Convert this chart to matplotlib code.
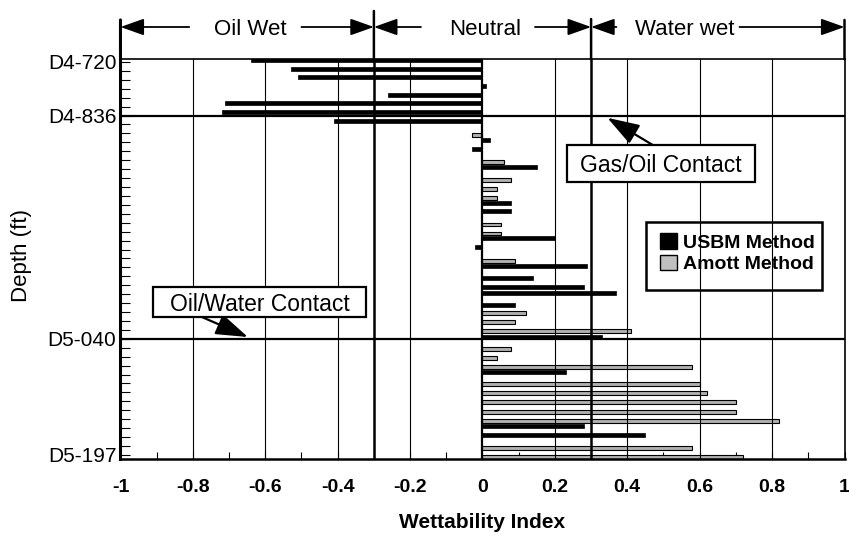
import matplotlib
matplotlib.use("Agg")
import matplotlib.pyplot as plt
import matplotlib.transforms as mtransforms
from matplotlib.patches import Patch, Rectangle
import numpy as np

plt.rcParams['font.family'] = ['Liberation Sans', 'DejaVu Sans']

# ---------------- data ----------------
# sample positions along depth axis (in minor-tick units, 0 = D4-720)
usbm_pos = [-0.22, 0.78, 1.68, 2.69, 3.70, 4.59, 5.60, 6.60, 8.73, 9.74, 11.79,
            15.76, 16.70, 19.70, 20.77, 22.80, 24.19, 25.16, 25.83, 27.20, 30.76,
            34.70, 40.80, 41.80, 44.45]
usbm_val = [-0.64, -0.53, -0.51, 0.01, -0.26, -0.71, -0.72, -0.41, 0.02, -0.03, 0.15,
            0.08, 0.08, 0.20, -0.02, 0.29, 0.14, 0.28, 0.37, 0.09, 0.33,
            0.23, 0.28, 0.45, 0.70]

amott_pos = [8.17, 11.23, 13.2, 14.2, 15.2, 18.2, 19.2, 22.25, 28.1, 29.1, 30.1,
             32.1, 33.15, 34.15, 36.1, 37.1, 38.1, 39.2, 40.2, 43.2, 44.2]
amott_val = [-0.03, 0.06, 0.08, 0.04, 0.04, 0.05, 0.05, 0.09, 0.12, 0.09, 0.41,
             0.08, 0.04, 0.58, 0.60, 0.62, 0.70, 0.70, 0.82, 0.58, 0.72]

depth_tick_pos = [0, 6, 31, 44]
depth_tick_labels = ["D4-720", "D4-836", "D5-040", "D5-197"]
contact_pos = [6, 31]          # Gas/Oil and Oil/Water contacts
contact_names = ["Gas/Oil Contact", "Oil/Water Contact"]
n_minor = 45

x_major = [-1, -0.8, -0.6, -0.4, -0.2, 0, 0.2, 0.4, 0.6, 0.8, 1]
x_major_labels = ["-1", "-0.8", "-0.6", "-0.4", "-0.2", "0", "0.2", "0.4", "0.6", "0.8", "1"]
grid_x = [-0.8, -0.6, -0.4, -0.2, 0.2, 0.4, 0.6, 0.8]
zone_bounds = [-1, -0.3, 0.3, 1]
zone_names = ["Oil Wet", "Neutral", "Water wet"]

# ---------------- figure ----------------
fig = plt.figure(figsize=(8.49, 5.39), dpi=100)
ax = fig.add_axes([0.1419, 0.1477, 0.8528, 0.7423])

ax.set_xlim(-1, 1)
ax.set_ylim(44.5, -0.3)

# bars
ax.barh(usbm_pos, usbm_val, height=0.45, color='black', edgecolor='black',
        linewidth=0.5, zorder=2)
ax.barh(amott_pos, amott_val, height=0.42, color='#b0b0b0', edgecolor='black',
        linewidth=0.8, zorder=2)

# grid / reference lines
for gx in grid_x:
    ax.axvline(gx, color='black', lw=0.8, zorder=3)
ax.axvline(0, color='black', lw=1.6, zorder=3)
for zb in zone_bounds[1:-1]:
    ax.axvline(zb, color='black', lw=1.8, zorder=3)
for cp in contact_pos:
    ax.axhline(cp, color='black', lw=1.6, zorder=3)

# spines
for s in ['top', 'right']:
    ax.spines[s].set_linewidth(1.2)
ax.spines['bottom'].set_linewidth(1.8)
ax.spines['left'].set_linewidth(2.2)

# ticks
ax.set_xticks(x_major)
ax.set_xticklabels(x_major_labels, fontsize=14, fontweight='bold')
ax.set_xticks(np.arange(-1, 1.001, 0.1), minor=True)
ax.tick_params(axis='x', which='both', direction='in', length=5, width=0.8,
               pad=14, top=False)
ax.set_yticks(depth_tick_pos)
ax.set_yticklabels(depth_tick_labels, fontsize=15)
ax.set_yticks(np.arange(n_minor), minor=True)
ax.tick_params(axis='y', which='both', direction='in', length=7.5, width=0.8,
               pad=3, right=False)

ax.set_xlabel("Wettability Index", fontsize=15, fontweight='bold', va='center')
ax.xaxis.set_label_coords(0.5, -0.157)
ax.set_ylabel("Depth (ft)", fontsize=16, va='center')
ax.yaxis.set_label_coords(-0.137, 0.51)

# zone boundary lines above axes
tops = {-1: 0.963, -0.3: 0.9796, 0.3: 0.9647, 1: 0.963}
for zb in zone_bounds:
    lw = 2.2 if zb == -1 else 1.8
    ax.annotate("", xy=(zb, tops[zb]), xytext=(zb, 1.0),
                xycoords=('data', 'figure fraction'),
                textcoords=('data', 'axes fraction'),
                arrowprops=dict(arrowstyle='-', lw=lw, color='black',
                                shrinkA=0, shrinkB=0))

# zone labels with arrows
blend = mtransforms.blended_transform_factory(ax.transData, fig.transFigure)
yarr = 1 - 27 / 539
label_x = [-0.64, 0.007, 0.56]
arrow_spans = [((-0.81, -1.0), (-0.50, -0.3)),
               ((-0.17, -0.3), (0.145, 0.3)),
               ((0.37, 0.3), (0.71, 1.0))]
for name, lx, spans in zip(zone_names, label_x, arrow_spans):
    ax.text(lx, yarr, name, transform=blend, ha='center', va='center_baseline',
            fontsize=16)
    for (x0, x1) in spans:
        ax.annotate("", xy=(x1, yarr), xytext=(x0, yarr),
                    xycoords=('data', 'figure fraction'),
                    textcoords=('data', 'figure fraction'),
                    arrowprops=dict(arrowstyle='-|>,head_length=0.9,head_width=0.32',
                                    mutation_scale=16, lw=1.3, color='black',
                                    shrinkA=0, shrinkB=0))

# contact annotation boxes
box_extents = [(0.2334, 0.7528, 9.29, 13.44), (-0.910, -0.322, 25.2, 28.56)]
arrow_ends = [((0.47, 9.29), (0.345, 6.25)), ((-0.775, 28.56), (-0.648, 30.8))]
for name, (bx0, bx1, by0, by1), (tail, head) in zip(contact_names, box_extents, arrow_ends):
    ax.add_patch(Rectangle((bx0, by0), bx1 - bx0, by1 - by0, fc='white', ec='black',
                           lw=1.6, zorder=10))
    ax.text((bx0 + bx1) / 2, (by0 + by1) / 2, name, fontsize=16.5, ha='center',
            va='center_baseline', zorder=11)
    ax.annotate("", xy=head, xytext=tail,
                arrowprops=dict(arrowstyle='-|>,head_length=0.9,head_width=0.3',
                                mutation_scale=22, lw=1.6, color='black',
                                shrinkA=0, shrinkB=0), zorder=9)

# legend
handles = [Patch(facecolor='black', edgecolor='black', label='USBM Method'),
           Patch(facecolor='#c0c0c0', edgecolor='black', label='Amott Method')]
leg = ax.legend(handles=handles, loc='upper left', bbox_to_anchor=(0.7452, 0.5646),
                borderaxespad=0, frameon=False,
                prop={'weight': 'bold', 'size': 14}, handlelength=0.85,
                handleheight=0.85, handletextpad=0.35, labelspacing=0.13,
                borderpad=0)
leg.set_zorder(10)
ax.add_patch(Rectangle((0.7258, 0.4234), 0.9689 - 0.7258, 0.5933 - 0.4234,
                       transform=ax.transAxes, fc='none', ec='black', lw=1.8,
                       zorder=10))

fig.savefig("out.png", dpi=100)
